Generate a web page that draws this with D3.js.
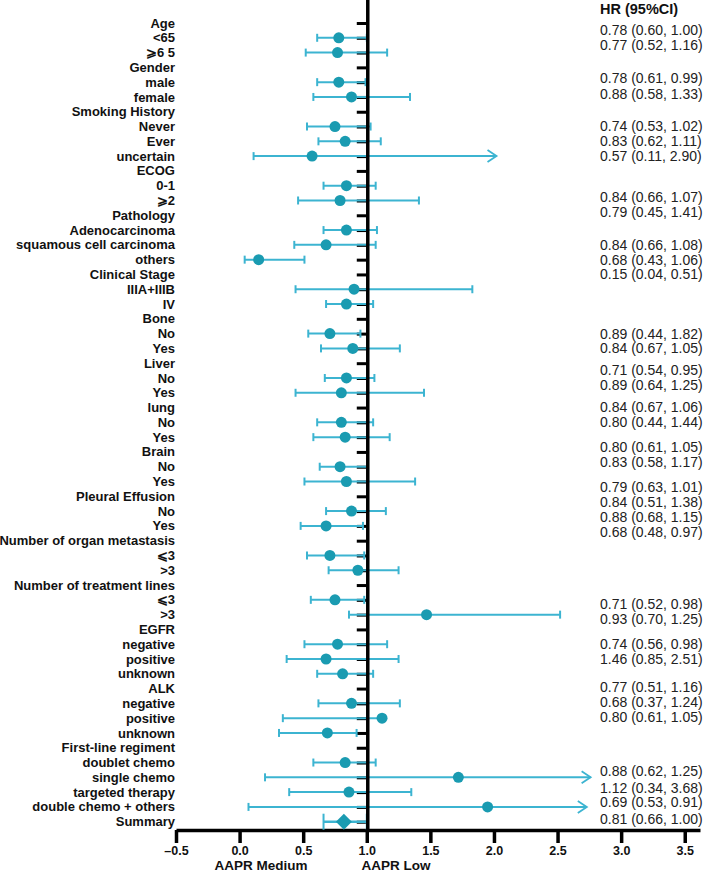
<!DOCTYPE html>
<html>
<head>
<meta charset="utf-8">
<script src="https://cdn.jsdelivr.net/npm/d3@7"></script>
<style>
  body { margin: 0; background: #fff; }
  svg { display: block; }
  text { font-family: "Liberation Sans", Arial, sans-serif; }
</style>
</head>
<body>
<div id="chart"></div>
<script>
// ---- data ----
const rowLabels = [
  "Age", "<65", "\u2A7E6 5", "Gender", "male", "female", "Smoking History", "Never", "Ever", "uncertain",
  "ECOG", "0-1", "\u2A7E2", "Pathology", "Adenocarcinoma", "squamous cell carcinoma", "others",
  "Clinical Stage", "IIIA+IIIB", "IV", "Bone", "No", "Yes", "Liver", "No", "Yes", "lung", "No", "Yes",
  "Brain", "No", "Yes", "Pleural Effusion", "No", "Yes", "Number of organ metastasis", "\u2A7D3", ">3",
  "Number of treatment lines", "\u2A7D3", ">3", "EGFR", "negative", "positive", "unknown",
  "ALK", "negative", "positive", "unknown", "First-line regiment", "doublet chemo", "single chemo",
  "targeted therapy", "double chemo + others", "Summary"
];

// point estimate per row (null = header row)
const hrPoint = [
  null, 0.78, 0.77, null, 0.78, 0.88, null, 0.75, 0.83, 0.57,
  null, 0.84, 0.79, null, 0.84, 0.68, 0.15,
  null, 0.90, 0.84, null, 0.71, 0.89, null, 0.84, 0.80, null, 0.80, 0.83,
  null, 0.79, 0.84, null, 0.88, 0.68, null, 0.71, 0.93,
  null, 0.75, 1.47, null, 0.77, 0.68, 0.81,
  null, 0.88, 1.12, 0.69, null, 0.83, 1.72,
  0.86, 1.95, 0.82
];
const ciLow = [
  null, 0.61, 0.52, null, 0.61, 0.58, null, 0.53, 0.62, 0.11,
  null, 0.66, 0.46, null, 0.66, 0.43, 0.04,
  null, 0.44, 0.68, null, 0.54, 0.64, null, 0.67, 0.44, null, 0.61, 0.58,
  null, 0.63, 0.51, null, 0.68, 0.48, null, 0.53, 0.70,
  null, 0.56, 0.86, null, 0.51, 0.37, 0.61,
  null, 0.62, 0.34, 0.31, null, 0.58, 0.20,
  0.39, 0.07, 0.66
];
const ciHigh = [
  null, 1.00, 1.16, null, 0.99, 1.34, null, 1.03, 1.11, 2.02,
  null, 1.07, 1.41, null, 1.08, 1.07, 0.51,
  null, 1.83, 1.05, null, 0.95, 1.26, null, 1.06, 1.45, null, 1.05, 1.18,
  null, 1.01, 1.38, null, 1.15, 0.97, null, 0.98, 1.25,
  null, 0.98, 2.52, null, 1.16, 1.25, 1.05,
  null, 1.26, null, 0.92, null, 1.07, 2.76,
  1.35, 2.73, 1.00
];
// rows whose upper whisker ends in an open arrow
const arrowRows = [9, 51, 53];
const summaryRow = 54;

const hrText = [
  "0.78 (0.60, 1.00)", "0.77 (0.52, 1.16)",
  "0.78 (0.61, 0.99)", "0.88 (0.58, 1.33)",
  "0.74 (0.53, 1.02)", "0.83 (0.62, 1.11)", "0.57 (0.11, 2.90)",
  "0.84 (0.66, 1.07)", "0.79 (0.45, 1.41)",
  "0.84 (0.66, 1.08)", "0.68 (0.43, 1.06)", "0.15 (0.04, 0.51)",
  "0.89 (0.44, 1.82)", "0.84 (0.67, 1.05)",
  "0.71 (0.54, 0.95)", "0.89 (0.64, 1.25)",
  "0.84 (0.67, 1.06)", "0.80 (0.44, 1.44)",
  "0.80 (0.61, 1.05)", "0.83 (0.58, 1.17)",
  "0.79 (0.63, 1.01)", "0.84 (0.51, 1.38)",
  "0.88 (0.68, 1.15)", "0.68 (0.48, 0.97)",
  "0.71 (0.52, 0.98)", "0.93 (0.70, 1.25)",
  "0.74 (0.56, 0.98)", "1.46 (0.85, 2.51)",
  "0.77 (0.51, 1.16)", "0.68 (0.37, 1.24)", "0.80 (0.61, 1.05)",
  "0.88 (0.62, 1.25)", "1.12 (0.34, 3.68)", "0.69 (0.53, 0.91)", "0.81 (0.66, 1.00)"
];
const xTicks = [-0.5, 0, 0.5, 1, 1.5, 2, 2.5, 3, 3.5];

// ---- layout ----
const W = 709, H = 872;
const axisY = 830;
const dotColor = "#1a9bb1";
const lineColor = "#3cb4d1";

// the HR column was typed in separately, so its lines sit between plot rows
const textSlots = [
  0.5, 1.5, 3.7, 4.8, 7, 8, 9, 11.8, 12.8, 15, 16, 17,
  21, 22, 23.5, 24.5, 26, 27, 28.7, 29.7, 31.4, 32.4, 33.4, 34.4,
  39.3, 40.3, 42, 43, 44.9, 45.9, 46.9, 50.6, 51.7, 52.7, 53.8
];

const svg = d3.select("#chart").append("svg")
  .attr("width", W).attr("height", H);

const x = d3.scaleLinear().domain([-0.5, 3.62]).range([176, 700]);
const y = d3.scaleLinear().domain([0, rowLabels.length - 1]).range([23, 821.7]);

const rows = rowLabels.map((label, i) => ({
  i, label, hr: hrPoint[i], lo: ciLow[i], hi: ciHigh[i],
  arrow: arrowRows.includes(i), summary: i === summaryRow
}));
const dataRows = rows.filter(d => d.hr != null);

// row labels
svg.append("g").selectAll("text")
  .data(rows).join("text")
  .attr("x", 175).attr("y", d => y(d.i)).attr("dy", "0.35em")
  .attr("text-anchor", "end")
  .attr("font-size", 13).attr("font-weight", "bold").attr("fill", "#111")
  .text(d => d.label);

// row ticks on the reference line (drawn under the whiskers)
const yAxis = svg.append("g")
  .attr("transform", `translate(${x(1)},0)`)
  .call(d3.axisLeft(y).tickValues(d3.range(rowLabels.length)).tickSize(10).tickFormat(""));
yAxis.select(".domain").remove();
yAxis.selectAll(".tick line").attr("stroke", "#000").attr("stroke-width", 3);

// bottom axis
const xAxis = svg.append("g")
  .attr("transform", `translate(0,${axisY})`)
  .call(d3.axisBottom(x).tickValues(xTicks).tickSize(13).tickSizeOuter(0).tickPadding(3)
    .tickFormat(d => d < 0 ? "\u2013" + Math.abs(d).toFixed(1) : d.toFixed(1)));
xAxis.select(".domain").attr("stroke", "#000").attr("stroke-width", 3.5);
xAxis.selectAll(".tick line").attr("stroke", "#000").attr("stroke-width", 3.5);
xAxis.selectAll(".tick text")
  .attr("font-size", 12.5).attr("font-weight", "bold").attr("fill", "#111")
  .style("font-family", "'Liberation Sans', Arial, sans-serif");

// whiskers
const g = svg.append("g");
g.selectAll("line.ci")
  .data(dataRows).join("line")
  .attr("class", "ci")
  .attr("x1", d => x(d.lo))
  .attr("x2", d => x(d.hi != null ? d.hi : d.hr))
  .attr("y1", d => y(d.i)).attr("y2", d => y(d.i))
  .attr("stroke", lineColor)
  .attr("stroke-width", d => d.summary ? 2.5 : 2);

// caps
const caps = [];
dataRows.forEach(d => {
  const h = d.summary ? 8 : 4;
  caps.push({ v: d.lo, i: d.i, h });
  if (d.hi != null && !d.arrow) caps.push({ v: d.hi, i: d.i, h });
});
g.selectAll("line.cap")
  .data(caps).join("line")
  .attr("class", "cap")
  .attr("x1", d => x(d.v)).attr("x2", d => x(d.v))
  .attr("y1", d => y(d.i) - d.h).attr("y2", d => y(d.i) + d.h)
  .attr("stroke", lineColor).attr("stroke-width", 2);

// open arrow heads
g.selectAll("path.arrow")
  .data(dataRows.filter(d => d.arrow)).join("path")
  .attr("class", "arrow")
  .attr("d", d => {
    const tx = x(d.hi), ty = y(d.i);
    return `M${tx - 9},${ty - 6}L${tx},${ty}L${tx - 9},${ty + 6}`;
  })
  .attr("fill", "none").attr("stroke", lineColor).attr("stroke-width", 1.8);

// points
g.selectAll("circle")
  .data(dataRows.filter(d => !d.summary)).join("circle")
  .attr("cx", d => x(d.hr)).attr("cy", d => y(d.i)).attr("r", 5.5)
  .attr("fill", dotColor);

// summary diamond
g.selectAll("path.diamond")
  .data(dataRows.filter(d => d.summary)).join("path")
  .attr("class", "diamond")
  .attr("d", d => {
    const cx = x(d.hr), cy = y(d.i), s = 8;
    return `M${cx - s},${cy}L${cx},${cy - s}L${cx + s},${cy}L${cx},${cy + s}Z`;
  })
  .attr("fill", dotColor);

// reference line at HR = 1
svg.append("line")
  .attr("x1", x(1) + 1).attr("x2", x(1) + 1)
  .attr("y1", 0).attr("y2", axisY)
  .attr("stroke", "#000").attr("stroke-width", 3.5);

// HR column
svg.append("text")
  .attr("x", 600).attr("y", 14)
  .attr("font-size", 14.5).attr("font-weight", "bold").attr("fill", "#111")
  .text("HR (95%CI)");
svg.append("g").selectAll("text")
  .data(hrText).join("text")
  .attr("x", 600).attr("y", (d, k) => y(textSlots[k])).attr("dy", "0.35em")
  .attr("font-size", 14).attr("fill", "#222")
  .text(d => d);

// axis titles
svg.append("text")
  .attr("x", 261).attr("y", 870).attr("text-anchor", "middle")
  .attr("font-size", 13.5).attr("font-weight", "bold").attr("fill", "#111")
  .text("AAPR Medium");
svg.append("text")
  .attr("x", 396).attr("y", 870).attr("text-anchor", "middle")
  .attr("font-size", 13.5).attr("font-weight", "bold").attr("fill", "#111")
  .text("AAPR Low");
</script>
</body>
</html>
